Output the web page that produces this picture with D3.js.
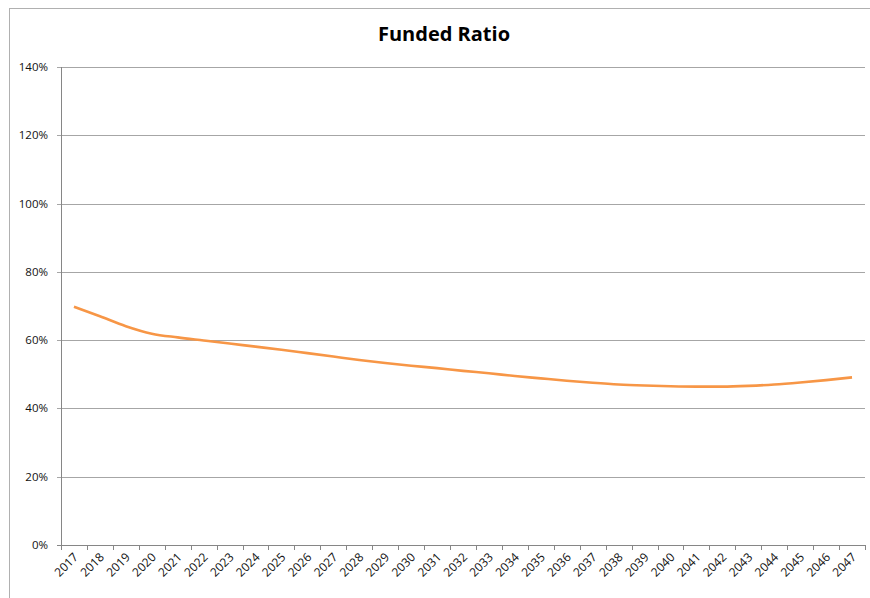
<!DOCTYPE html>
<html>
<head>
<meta charset="utf-8">
<script src="https://cdn.jsdelivr.net/npm/d3@7"></script>
<style>
  body { margin: 0; background: #fff; }
  text { font-family: "Open Sans", "Liberation Sans", sans-serif; }
</style>
</head>
<body>
<div id="chart-area"></div>
<script>
var years = ['2017','2018','2019','2020','2021','2022','2023','2024','2025','2026',
  '2027','2028','2029','2030','2031','2032','2033','2034','2035','2036','2037',
  '2038','2039','2040','2041','2042','2043','2044','2045','2046','2047']
var funded = [69.8, 67.0, 64.1, 61.9, 60.8, 59.9, 59.0, 58.1, 57.2, 56.2,
  55.2, 54.2, 53.3, 52.5, 51.8, 51.0, 50.3, 49.5, 48.8, 48.1, 47.5,
  47.0, 46.7, 46.5, 46.4, 46.4, 46.6, 47.0, 47.6, 48.3, 49.1]
var yTicks = [0, 20, 40, 60, 80, 100, 120, 140]

var W = 870, H = 598
var margin = { left:61, right:5, top:67, bottom:53 }
var width = W - margin.left - margin.right,
    height = H - margin.top - margin.bottom

var svg = d3.select('#chart-area')
  .append('svg')
  .attr('width', W)
  .attr('height', H)

// chart frame
svg.append('rect')
  .attr('x', 9.5).attr('y', 8.5)
  .attr('width', 880).attr('height', 620)
  .attr('fill', 'none')
  .attr('stroke', '#b0b0b0')

svg.append('text')
  .attr('x', 444).attr('y', 41)
  .attr('text-anchor', 'middle')
  .attr('font-size', 20)
  .attr('font-weight', 'bold')
  .text('Funded Ratio')

var g = svg.append('g')
  .attr('transform', 'translate(' + margin.left + ', ' + margin.top + ')')

var x = d3.scaleBand()
  .domain(years)
  .range([0, width])

var y = d3.scaleLinear()
  .domain([0, 140])
  .range([height, 0])

// gridlines
g.selectAll('.grid').data(yTicks.slice(1)).enter()
  .append('line')
  .attr('x1', -4).attr('x2', width)
  .attr('y1', function(d){ return Math.round(y(d)) + 0.5 })
  .attr('y2', function(d){ return Math.round(y(d)) + 0.5 })
  .attr('stroke', '#a6a6a6')

// axes
g.append('line')
  .attr('x1', 0.5).attr('x2', 0.5)
  .attr('y1', 0).attr('y2', height)
  .attr('stroke', '#868686')
g.append('line')
  .attr('x1', -4).attr('x2', width)
  .attr('y1', height + 0.5).attr('y2', height + 0.5)
  .attr('stroke', '#868686')

g.selectAll('.ylab').data(yTicks).enter()
  .append('text')
  .attr('x', -13)
  .attr('y', function(d){ return y(d) + 4 })
  .attr('text-anchor', 'end')
  .attr('font-size', 11.5)
  .attr('fill', '#111')
  .text(function(d){ return d + '%' })

// x ticks between categories
var tickPos = years.map(function(d){ return x(d) }).concat([width])
g.selectAll('.xtick').data(tickPos).enter()
  .append('line')
  .attr('x1', function(d){ return Math.round(d) + 0.5 })
  .attr('x2', function(d){ return Math.round(d) + 0.5 })
  .attr('y1', height).attr('y2', height + 5)
  .attr('stroke', '#868686')

g.selectAll('.xlab').data(years).enter()
  .append('text')
  .attr('transform', function(d){
    return 'translate(' + (x(d) + x.bandwidth() / 2 + 5) + ',' + (height + 13) + ') rotate(-45)'
  })
  .attr('text-anchor', 'end')
  .attr('font-size', 12)
  .attr('fill', '#111')
  .text(function(d){ return d })

var line = d3.line()
  .x(function(d, i){ return x(years[i]) + x.bandwidth() / 2 })
  .y(function(d){ return y(d) })
  .curve(d3.curveMonotoneX)

g.append('path')
  .datum(funded)
  .attr('d', line)
  .attr('fill', 'none')
  .attr('stroke', '#f79646')
  .attr('stroke-width', 2.6)
</script>
</body>
</html>
